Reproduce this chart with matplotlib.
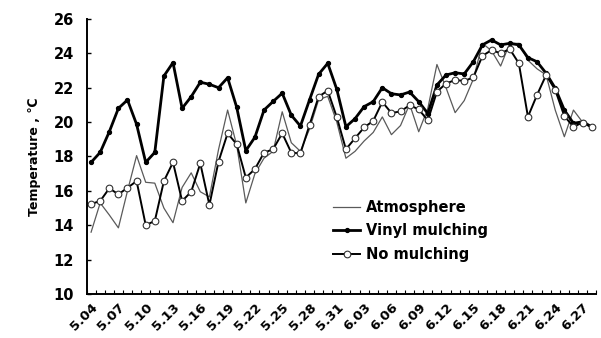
import matplotlib
matplotlib.use("Agg")
import matplotlib.pyplot as plt
import numpy as np

# daily dates 5.04 .. 6.28
dates = ["5.%02d" % d for d in range(4, 32)] + ["6.%02d" % d for d in range(1, 29)]

atmosphere = [13.6, 15.3, 14.6, 13.85, 16.0, 18.05, 16.5, 16.45, 15.0, 14.15,
              16.2, 17.05, 15.95, 15.65, 18.4, 20.7, 18.65, 15.3, 17.0, 17.9,
              18.3, 20.6, 18.8, 18.3, 19.6, 21.3, 21.5, 20.0, 17.9, 18.3,
              18.9, 19.4, 20.3, 19.27, 19.8, 21.04, 19.44, 20.8, 23.35, 22.0,
              20.55, 21.25, 22.5, 24.58, 24.15, 23.26, 24.58, 24.58, 23.6, 23.1,
              22.74, 20.7, 19.15, 20.7, 20.0, 19.73]

vinyl = [17.66, 18.24, 19.44, 20.8, 21.29, 19.87, 17.66, 18.24, 22.68, 23.46,
         20.8, 21.48, 22.32, 22.2, 22.0, 22.58, 20.86, 18.34, 19.12, 20.7,
         21.2, 21.68, 20.4, 19.77, 21.29, 22.78, 23.42, 21.9, 19.73, 20.2,
         20.9, 21.19, 22.0, 21.65, 21.58, 21.75, 21.19, 20.5, 22.16, 22.74,
         22.87, 22.8, 23.51, 24.49, 24.78, 24.49, 24.58, 24.49, 23.75, 23.51,
         22.84, 21.97, 20.7, 19.93, 20.02, 19.73]

no_mulch = [15.24, 15.41, 16.15, 15.8, 16.18, 16.57, 14.01, 14.25, 16.57, 17.66,
            15.41, 15.95, 17.6, 15.18, 17.7, 19.35, 18.71, 16.77, 17.27, 18.22,
            18.42, 19.35, 18.22, 18.18, 19.83, 21.48, 21.83, 20.28, 18.42, 19.06,
            19.69, 20.07, 21.17, 20.53, 20.62, 20.98, 20.74, 20.1, 21.77, 22.24,
            22.45, 22.39, 22.6, 23.85, 24.19, 24.0, 24.25, 23.42, 20.31, 21.58,
            22.74, 21.87, 20.35, 19.73, 19.97, 19.7]

plt.rcParams['font.family'] = ['DejaVu Sans']
plt.rcParams['font.weight'] = 'bold'

fig = plt.figure(figsize=(6.01, 3.38), dpi=100)
ax = fig.add_axes([0.144, 0.130, 0.848, 0.814])

x = np.arange(len(dates))
ax.plot(x, atmosphere, color='#5a5a5a', lw=0.9, label='Atmosphere')
ax.plot(x, vinyl, color='black', lw=2.0, marker='o', ms=2.8,
        mfc='black', mec='black', label='Vinyl mulching')
ax.plot(x, no_mulch, color='black', lw=1.4, marker='o', ms=4.8,
        mfc='white', mec='#333333', mew=0.8, label='No mulching')

ax.set_xlim(-0.5, len(dates) - 0.5)
ax.set_ylim(10, 26)
ax.set_yticks(range(10, 27, 2))
ax.set_xticks(x[::3])
ax.set_xticklabels(dates[::3], rotation=45, ha='right', rotation_mode='anchor',
                   fontsize=9.5, fontweight='bold')
ax.set_xticks(np.arange(-0.5, len(dates), 1), minor=True)
ax.tick_params(axis='x', which='major', length=0, pad=5)
ax.tick_params(axis='x', which='minor', direction='in', length=3, width=0.8)
ax.tick_params(axis='y', direction='in', length=3, width=1, labelsize=10.5, pad=9)
for lab in ax.get_yticklabels():
    lab.set_fontweight('bold')

for s in ['top', 'right']:
    ax.spines[s].set_visible(False)
for s in ['left', 'bottom']:
    ax.spines[s].set_linewidth(1.4)

ax.set_ylabel('Temperature , ℃', fontsize=9, fontweight='bold', labelpad=9)

ax.legend(loc='upper left', bbox_to_anchor=(0.458, 0.39), frameon=False,
          prop={'weight': 'bold', 'size': 10.5}, handlelength=1.85,
          labelspacing=0.58, handletextpad=0.4)

fig.savefig('out.png', dpi=100)
